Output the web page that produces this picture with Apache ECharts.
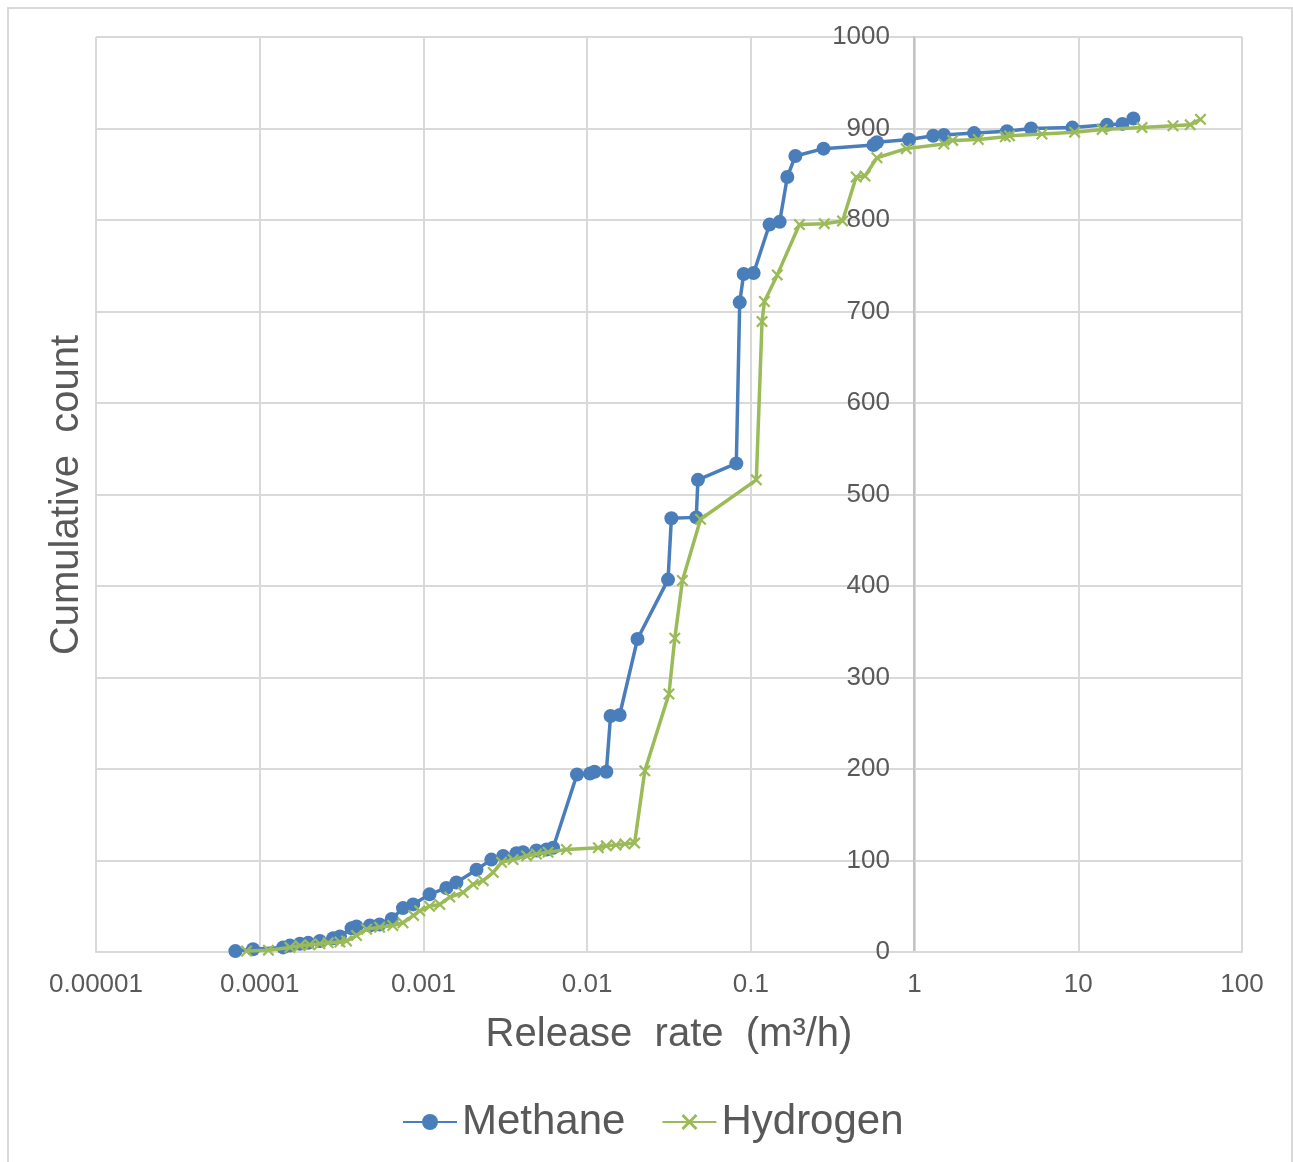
<!DOCTYPE html>
<html>
<head>
<meta charset="utf-8">
<title>Cumulative count vs release rate</title>
<script src="https://cdn.jsdelivr.net/npm/echarts@6/dist/echarts.min.js"></script>
<style>
  html, body { margin: 0; padding: 0; background: #ffffff; }
  #chart { width: 1293px; height: 1162px; }
</style>
</head>
<body>
<div id="chart"></div>
<script>
// Methane: release rate (m³/h) and cumulative count
const methaneRate = [
  7.1e-5, 9.1e-5, 1.39e-4, 1.53e-4, 1.76e-4, 1.98e-4, 2.33e-4, 2.81e-4, 3.09e-4,
  3.64e-4, 3.9e-4, 4.71e-4, 5.4e-4, 6.4e-4, 7.5e-4, 8.66e-4, 1.09e-3, 1.38e-3,
  1.59e-3, 2.11e-3, 2.6e-3, 3.07e-3, 3.7e-3, 4.06e-3, 4.9e-3, 5.65e-3, 6.2e-3,
  8.67e-3, 0.0104, 0.0111, 0.0131, 0.0139, 0.0158, 0.0203, 0.0312, 0.0327,
  0.0464, 0.0475, 0.0815, 0.0855, 0.0904, 0.104, 0.130, 0.150, 0.167, 0.187,
  0.278, 0.561, 0.589, 0.925, 1.30, 1.51, 2.31, 3.67, 5.15, 9.2, 14.96, 18.6, 21.7
];
const methaneCount = [
  1, 3, 5, 7, 9, 10, 12, 15, 17,
  26, 28, 29, 30, 36, 48, 52, 63, 70,
  76, 90, 101, 105, 108, 109, 111, 112, 114,
  194, 195, 197, 197, 258, 259, 342, 407, 474,
  475, 516, 534, 710, 741, 742, 795, 798, 847, 870,
  878, 882, 885, 888, 892, 893, 895, 897, 900, 901, 904, 905, 911
];

// Hydrogen: release rate (m³/h) and cumulative count
const hydrogenRate = [
  8.3e-5, 1.13e-4, 1.53e-4, 1.76e-4, 2.02e-4, 2.33e-4, 2.62e-4, 3.09e-4, 3.39e-4,
  3.9e-4, 4.5e-4, 5.4e-4, 6.5e-4, 7.5e-4, 8.7e-4, 9.5e-4, 1.09e-3, 1.26e-3,
  1.45e-3, 1.75e-3, 2.01e-3, 2.32e-3, 2.67e-3, 3.0e-3, 3.53e-3, 4.27e-3, 4.9e-3,
  5.77e-3, 7.47e-3, 0.0117, 0.0131, 0.015, 0.017, 0.0195, 0.0225, 0.0316,
  0.0343, 0.0382, 0.0493, 0.108, 0.117, 0.121, 0.145, 0.198, 0.281, 0.363,
  0.44, 0.498, 0.589, 0.889, 1.51, 1.71, 2.45, 3.58, 3.8, 6.0, 9.5, 14.0,
  24.5, 37.9, 48.3, 55.8
];
const hydrogenCount = [
  1, 2, 5, 7, 8, 9, 10, 11, 12,
  18, 25, 27, 29, 32, 40, 45, 50, 52,
  60, 65, 74, 78, 87, 98, 101, 105, 107,
  109, 112, 114, 116, 117, 118, 119, 198, 282,
  343, 406, 473, 516, 689, 711, 740, 795, 796, 799,
  847, 848, 868, 878, 883, 887, 888, 891, 892, 894, 896, 899,
  901, 903, 904, 910
];

// Axis tick labels
const xTickLabels = ['0.00001', '0.0001', '0.001', '0.01', '0.1', '1', '10', '100'];
const yTicks = [0, 100, 200, 300, 400, 500, 600, 700, 800, 900, 1000];

const seriesNames = ['Methane', 'Hydrogen'];
const textColor = '#595959';
const gridColor = '#d9d9d9';
const blue = '#4a7ebb';
const green = '#9bbb59';

const pair = (xs, ys) => xs.map((x, i) => [x, ys[i]]);

// cross-shaped marker
const crossSymbol = 'path://M0,1.3L1.3,0L5,3.7L8.7,0L10,1.3L6.3,5L10,8.7L8.7,10L5,6.3L1.3,10L0,8.7L3.7,5Z';

const chart = echarts.init(document.getElementById('chart'), null, { renderer: 'canvas' });

const gridLeft = 96, gridRight = 1242;
const yAxisAt = 914; // y axis crosses the x axis at 1 m³/h

chart.setOption({
  backgroundColor: '#ffffff',
  animation: false,
  textStyle: { fontFamily: 'Liberation Sans, Arial, sans-serif' },
  grid: { left: gridLeft, right: 1293 - gridRight, top: 37, bottom: 1162 - 952, containLabel: false },
  graphic: [
    {
      type: 'rect', silent: true, z: -10,
      shape: { x: 8, y: 8, width: 1284, height: 1180 },
      style: { fill: 'none', stroke: '#d9d9d9', lineWidth: 2 }
    },
    {
      type: 'text', silent: true,
      x: 67, y: 495, rotation: Math.PI / 2,
      style: {
        text: 'Cumulative  count',
        fill: textColor,
        font: '40px "Liberation Sans", Arial, sans-serif',
        align: 'center', verticalAlign: 'middle'
      }
    }
  ],
  legend: {
    data: seriesNames,
    left: 397,
    top: 1096,
    itemWidth: 54,
    itemHeight: 20,
    itemGap: 36,
    textStyle: { fontSize: 42, color: textColor, fontFamily: 'Liberation Sans, Arial, sans-serif' }
  },
  xAxis: {
    type: 'log',
    logBase: 10,
    min: 1e-5,
    max: 100,
    name: 'Release  rate  (m³/h)',
    nameLocation: 'middle',
    nameGap: 63,
    nameTextStyle: { fontSize: 40, color: textColor },
    axisLine: { show: true, lineStyle: { color: gridColor, width: 2 } },
    axisTick: { show: false },
    splitLine: { show: true, lineStyle: { color: gridColor, width: 2 } },
    axisLabel: {
      fontSize: 26,
      color: textColor,
      margin: 20,
      formatter: v => xTickLabels[Math.round(Math.log10(v)) + 5] ?? ''
    }
  },
  yAxis: {
    type: 'value',
    min: yTicks[0],
    max: yTicks[yTicks.length - 1],
    interval: yTicks[1] - yTicks[0],
    position: 'left',
    offset: -(yAxisAt - gridLeft),
    axisLine: { show: true, lineStyle: { color: '#c4c4c4', width: 2 } },
    axisTick: { show: false },
    splitLine: { show: true, lineStyle: { color: gridColor, width: 2 } },
    axisLabel: { fontSize: 26, color: textColor, margin: 24, formatter: v => String(v) }
  },
  series: [
    {
      name: seriesNames[0],
      type: 'line',
      data: pair(methaneRate, methaneCount),
      symbol: 'circle',
      symbolSize: 14,
      showAllSymbol: true,
      lineStyle: { color: blue, width: 3.5 },
      itemStyle: { color: blue },
      z: 3
    },
    {
      name: seriesNames[1],
      type: 'line',
      data: pair(hydrogenRate, hydrogenCount),
      symbol: crossSymbol,
      symbolSize: 12,
      showAllSymbol: true,
      lineStyle: { color: green, width: 3.5 },
      itemStyle: { color: green },
      z: 4
    }
  ]
});
</script>
</body>
</html>
